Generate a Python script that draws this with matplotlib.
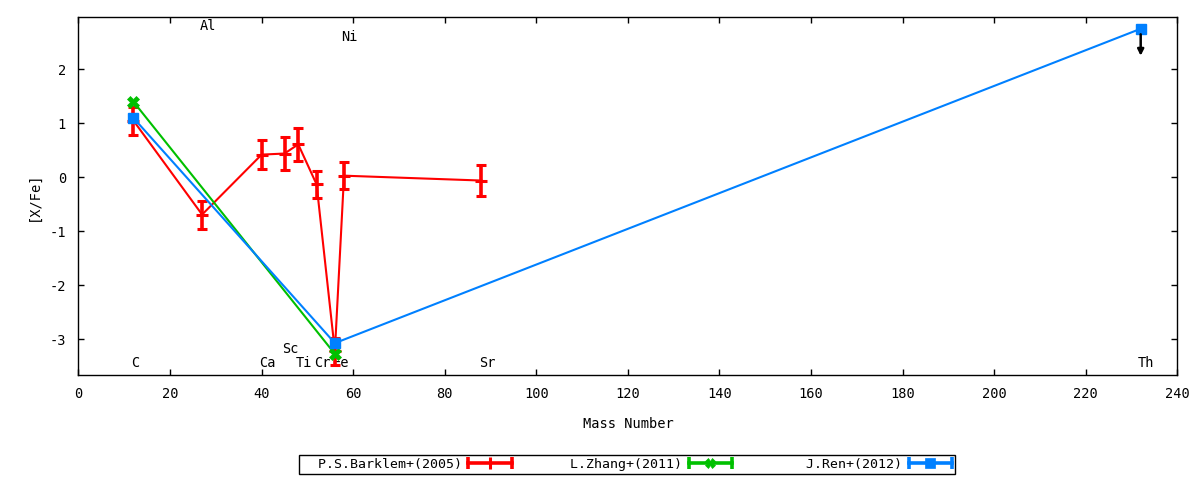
import numpy as np
import matplotlib
matplotlib.use("Agg")
import matplotlib.pyplot as plt
from matplotlib.lines import Line2D
from matplotlib.legend_handler import HandlerLine2D, HandlerTuple

plt.rcParams['font.family'] = ['DejaVu Sans Mono', 'DejaVu Sans']
plt.rcParams['axes.unicode_minus'] = False

# ------------------------------
# data
# ------------------------------
# P.S.Barklem+(2005): C Al Ca Sc Ti Cr Fe Ni Sr
barklem_mass = [12, 27, 40, 45, 48, 52, 56, 58, 88]
barklem_xfe = [1.05, -0.69, 0.42, 0.44, 0.61, -0.13, -3.22, 0.03, -0.06]
barklem_err = [0.26, 0.26, 0.27, 0.30, 0.30, 0.25, 0.25, 0.25, 0.29]

# L.Zhang+(2011): C Fe
zhang_mass = [12, 56]
zhang_xfe = [1.40, -3.27]

# J.Ren+(2012): C Fe Th (Th is an upper limit)
ren_mass = [12, 56, 232]
ren_xfe = [1.10, -3.07, 2.75]
ren_uplim = [False, False, True]
uplim_len = 0.5

# element labels
elem_names = ['C', 'Al', 'Ca', 'Sc', 'Ti', 'Cr', 'Fe', 'Ni', 'Sr', 'Th']
elem_mass = [12, 27, 40, 45, 48, 52, 56, 58, 88, 232]
elem_ypos = [-3.44, 2.80, -3.44, -3.18, -3.44, -3.44, -3.44, 2.60, -3.44, -3.44]

RED = '#ff0000'
GREEN = '#00c000'
BLUE = '#0080ff'
FS = 9.8

fig = plt.figure(figsize=(12, 4.8), dpi=100)
ax = fig.add_axes([0.0654, 0.21875, 0.9157, 0.7453])

# element names
for name, m, yp in zip(elem_names, elem_mass, elem_ypos):
    ax.text(m - 0.6, yp, name, ha='left', va='center', fontsize=FS, zorder=1)

# ------------------------------
# series
# ------------------------------
ax.errorbar(barklem_mass, barklem_xfe, yerr=barklem_err, color=RED, lw=1.5,
            elinewidth=2.6, capsize=3.6, capthick=2.6, marker='_', ms=8,
            mew=2.2, zorder=3)
ax.plot(zhang_mass, zhang_xfe, color=GREEN, lw=1.5, marker='X', ms=8,
        mew=0.5, zorder=4)
ax.plot(ren_mass, ren_xfe, color=BLUE, lw=1.5, marker='s', ms=7.5, zorder=5)

# upper limit arrows
for m, v, lim in zip(ren_mass, ren_xfe, ren_uplim):
    if lim:
        ax.annotate('', xy=(m, v - uplim_len), xytext=(m, v),
                    arrowprops=dict(arrowstyle='-|>', color='black', lw=1.8,
                                    mutation_scale=9, shrinkA=4, shrinkB=0),
                    zorder=6)

ax.set_xlim(0, 240)
ax.set_ylim(-3.66, 2.963)
ax.set_xticks(np.arange(0, 241, 20))
ax.set_yticks(np.arange(-3, 3, 1))
ax.tick_params(direction='in', top=True, right=True, length=4, width=1,
               labelsize=FS, pad=9)
for sp in ax.spines.values():
    sp.set_linewidth(1.0)
ax.set_xlabel('Mass Number', fontsize=FS, labelpad=11)
ax.set_ylabel('[X/Fe]', fontsize=FS, labelpad=6)

# ------------------------------
# legend (gnuplot-like samples with end caps)
# ------------------------------
labels = ['P.S.Barklem+(2005)', 'L.Zhang+(2011)', 'J.Ren+(2012)']
colors = [RED, GREEN, BLUE]
mids = [('|', 8, 2.2), ('X', 7, 0.5), ('s', 6.5, 0.5)]
handles, hmap = [], {}
for c, (mk, ms, mw) in zip(colors, mids):
    cap = Line2D([], [], color=c, lw=2.6, marker='|', ms=8, mew=2.6)
    mid = Line2D([], [], color=c, ls='none', marker=mk, ms=ms, mew=mw)
    hmap[cap] = HandlerLine2D(numpoints=2, marker_pad=0)
    hmap[mid] = HandlerLine2D(numpoints=1)
    handles.append((cap, mid))
hmap[tuple] = HandlerTuple(ndivide=1)
width = max(len(s) for s in labels) + 2
padded = [s.rjust(width) for s in labels]
leg = fig.legend(handles, padded, handler_map=hmap, loc='center',
                 bbox_to_anchor=(0.5225, 0.0323), ncol=3, markerfirst=False,
                 fontsize=FS * 0.97, frameon=True, fancybox=False,
                 edgecolor='black', framealpha=1, borderpad=0.22,
                 handlelength=3.3, handletextpad=0.5, columnspacing=0.75,
                 borderaxespad=0)
leg.get_frame().set_linewidth(1.0)

fig.savefig('out.png', dpi=100)
